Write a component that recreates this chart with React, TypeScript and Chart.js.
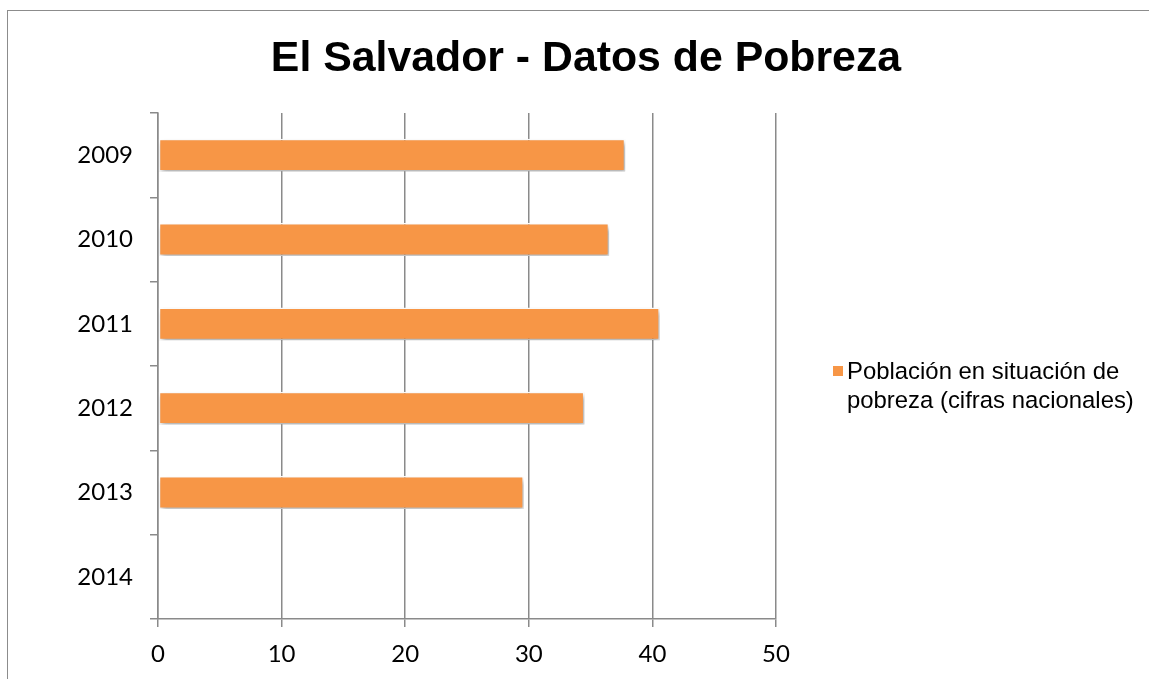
import React, { useEffect, useRef } from "react";
import { Chart, registerables } from "chart.js";

Chart.register(...registerables);

const years = ["2009", "2010", "2011", "2012", "2013", "2014"];
const povertyValues: (number | null)[] = [37.8, 36.5, 40.6, 34.5, 29.6, null];
const seriesLabelLines = ["Población en situación de", "pobreza (cifras nacionales)"];
const chartTitle = "El Salvador - Datos de Pobreza";
const xMin = 0;
const xMax = 50;
const xStep = 10;

const BAR_COLOR = "#F79646";
const GRID_COLOR = "#8a8a8a";
const TICK_FONT = "Lato";

const shadowPlugin = {
  id: "barShadow",
  beforeDatasetsDraw(chart: any) {
    const ctx = chart.ctx;
    ctx.save();
    ctx.shadowColor = "rgba(0,0,0,0.35)";
    ctx.shadowBlur = 5;
    ctx.shadowOffsetX = 2;
    ctx.shadowOffsetY = 3;
  },
  afterDatasetsDraw(chart: any) {
    chart.ctx.restore();
  },
};

const titleLegendPlugin = {
  id: "titleLegend",
  afterDraw(chart: any) {
    const ctx = chart.ctx;
    ctx.save();
    ctx.fillStyle = "#000";
    ctx.font = "bold 42.8px 'Liberation Sans', Arial, sans-serif";
    ctx.textAlign = "center";
    ctx.textBaseline = "alphabetic";
    ctx.fillText(chartTitle, 578, 60);

    // legend
    ctx.fillStyle = BAR_COLOR;
    ctx.fillRect(825, 355, 10, 10);
    ctx.fillStyle = "#000";
    ctx.font = "23.9px 'Liberation Sans', Arial, sans-serif";
    ctx.textAlign = "left";
    seriesLabelLines.forEach((line, i) => {
      ctx.fillText(line, 839, 368 + i * 29);
    });
    ctx.restore();
  },
};

export default function App() {
  const canvasRef = useRef<HTMLCanvasElement | null>(null);

  useEffect(() => {
    if (!canvasRef.current) return;
    const chart = new Chart(canvasRef.current, {
      type: "bar",
      data: {
        labels: years,
        datasets: [
          {
            label: seriesLabelLines.join(" "),
            data: povertyValues,
            backgroundColor: BAR_COLOR,
            borderColor: "#ffffff",
            borderWidth: 1.5,
            borderSkipped: false,
            categoryPercentage: 1,
            barPercentage: 0.39,
          },
        ],
      },
      options: {
        indexAxis: "y",
        responsive: false,
        animation: false,
        layout: { padding: { top: 102, right: 374, bottom: 0, left: 0 } },
        plugins: {
          legend: { display: false },
          title: { display: false },
          tooltip: { enabled: false },
        },
        scales: {
          x: {
            type: "linear",
            min: xMin,
            max: xMax,
            ticks: {
              stepSize: xStep,
              color: "#000",
              font: { family: TICK_FONT, size: 24 },
              padding: 13,
            },
            grid: {
              color: GRID_COLOR,
              lineWidth: 1.5,
              drawOnChartArea: true,
              drawTicks: true,
              tickLength: 8,
            },
            border: { display: true, color: GRID_COLOR, width: 1.5 },
            afterFit(scale: any) {
              scale.height = 60;
            },
          },
          y: {
            type: "category",
            offset: true,
            ticks: {
              color: "#000",
              font: { family: TICK_FONT, size: 24 },
              padding: 17,
            },
            grid: {
              offset: true,
              color: GRID_COLOR,
              lineWidth: 1.5,
              drawOnChartArea: false,
              drawTicks: true,
              tickLength: 8,
            },
            border: { display: true, color: GRID_COLOR, width: 1.5 },
            afterFit(scale: any) {
              scale.width = 150;
            },
          },
        },
      },
      plugins: [shadowPlugin, titleLegendPlugin],
    });
    return () => chart.destroy();
  }, []);

  return (
    <div
      style={{
        position: "fixed",
        left: 7,
        top: 10,
        width: 1142,
        height: 668,
        borderLeft: "1px solid #8c8c8c",
        borderTop: "1px solid #8c8c8c",
        background: "#fff",
      }}
    >
      <canvas ref={canvasRef} width={1142} height={668} style={{ display: "block" }} />
    </div>
  );
}
